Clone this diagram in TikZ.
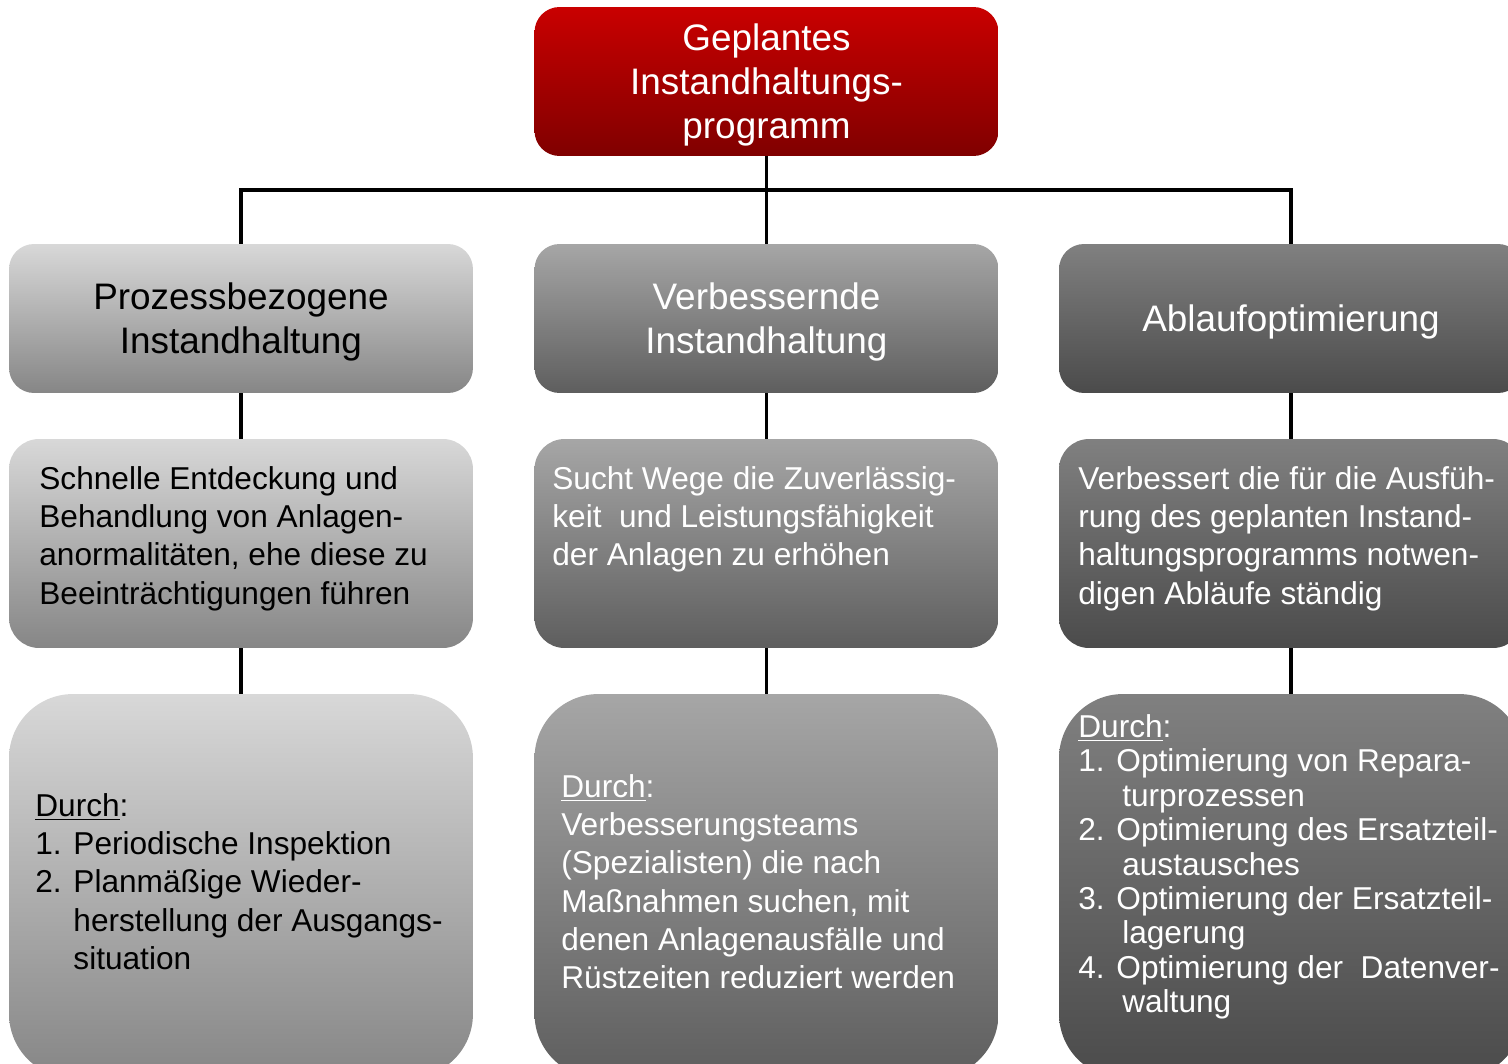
\documentclass[tikz,border=0pt]{standalone}
\usepackage{fontspec}
\setmainfont{Liberation Sans}
\usepackage{tikz}

\definecolor{redtop}{HTML}{C90000}
\definecolor{redbot}{HTML}{800000}
\definecolor{lgtop}{HTML}{D8D8D8}
\definecolor{lgbot}{HTML}{868686}
\definecolor{mgtop}{HTML}{A6A6A6}
\definecolor{mgbot}{HTML}{5E5E5E}
\definecolor{dgtop}{HTML}{808080}
\definecolor{dgbot}{HTML}{4B4B4B}

\begin{document}
\begin{tikzpicture}[x=0.02cm, y=-0.02cm,
        head/.style={rounded corners=0.5cm, minimum width=\bw, minimum height=2.98cm, inner sep=0pt, text depth=0pt, align=center, font=\fontsize{21}{25}\selectfont},
        desc/.style={rounded corners=0.6cm, minimum width=\bw, minimum height=4.18cm, inner sep=0pt},
        way/.style={rounded corners=1.28cm, minimum width=\bw, minimum height=7.68cm, inner sep=0pt},
        txt/.style={inner sep=0pt, anchor=north west, align=left, font=\fontsize{18}{21.8}\selectfont},
        conn/.style={line width=1.8pt}]
        \def \bw {9.28cm} % box width
        \def \ind {\hspace*{25pt}}
        
        \clip (0,0) rectangle (1508,1064);
        
        \node[head, top color=redtop, bottom color=redbot, text=white] at (766.5,81.5) (prog) {Geplantes\\Instandhaltungs-\\programm};
        \coordinate (bus) at (766.5,190);
        
        \node[head, top color=lgtop, bottom color=lgbot, text=black] at (241,318.5) (kind1) {Prozessbezogene\\Instandhaltung};
        \node[head, top color=mgtop, bottom color=mgbot, text=white] at (766.5,318.5) (kind2) {Verbessernde\\Instandhaltung};
        \node[head, top color=dgtop, bottom color=dgbot, text=white] at (1291,318.5) (kind3) {Ablaufoptimierung};
        
        \foreach \x/\ct/\cb [count=\i] in {241/lgtop/lgbot, 766.5/mgtop/mgbot, 1291/dgtop/dgbot}{
          \node[desc, top color=\ct, bottom color=\cb] at (\x,543.5) (goal\i) {};
          \node[way, top color=\ct, bottom color=\cb] at (\x,886) (way\i) {};
          \draw[conn] (kind\i)--(goal\i);
          \draw[conn] (goal\i)--(way\i);
        }
        
        \draw[conn] (prog)--(bus);
        \draw[conn] (kind1) |- (bus) -| (kind3);
        \draw[conn] (bus)--(kind2);
        
        % what each one does
        \node[txt] at (39,466) (goaltxt1) {Schnelle Entdeckung und\\Behandlung von Anlagen-\\anormalitäten, ehe diese zu\\Beeinträchtigungen führen};
        \node[txt, text=white] at (552,466) (goaltxt2) {Sucht Wege die Zuverlässig-\\keit\ \ und Leistungsfähigkeit\\der Anlagen zu erhöhen};
        \node[txt, text=white] at (1078,466) (goaltxt3) {Verbessert die für die Ausfüh-\\rung des geplanten Instand-\\haltungsprogramms notwen-\\digen Abläufe ständig};
        
        % how
        \node[txt] at (35,793) (waytxt1) {\underline{Durch}:\\1. Periodische Inspektion\\2. Planmäßige Wieder-\\\hphantom{2. }herstellung der Ausgangs-\\\hphantom{2. }situation};
        \node[txt, text=white] at (561,774) (waytxt2) {\underline{Durch}:\\Verbesserungsteams\\(Spezialisten) die nach\\Maßnahmen suchen, mit\\denen Anlagenausfälle und\\Rüstzeiten reduziert werden};
        \node[txt, text=white, font=\fontsize{18}{19.6}\selectfont] at (1078,714) (waytxt3) {\underline{Durch}:\\1. Optimierung von Repara-\\\ind turprozessen\\2. Optimierung des Ersatzteil-\\\ind austausches\\3. Optimierung der Ersatzteil-\\\ind lagerung\\4. Optimierung der\ \ Datenver-\\\ind waltung};
\end{tikzpicture}
\end{document}
